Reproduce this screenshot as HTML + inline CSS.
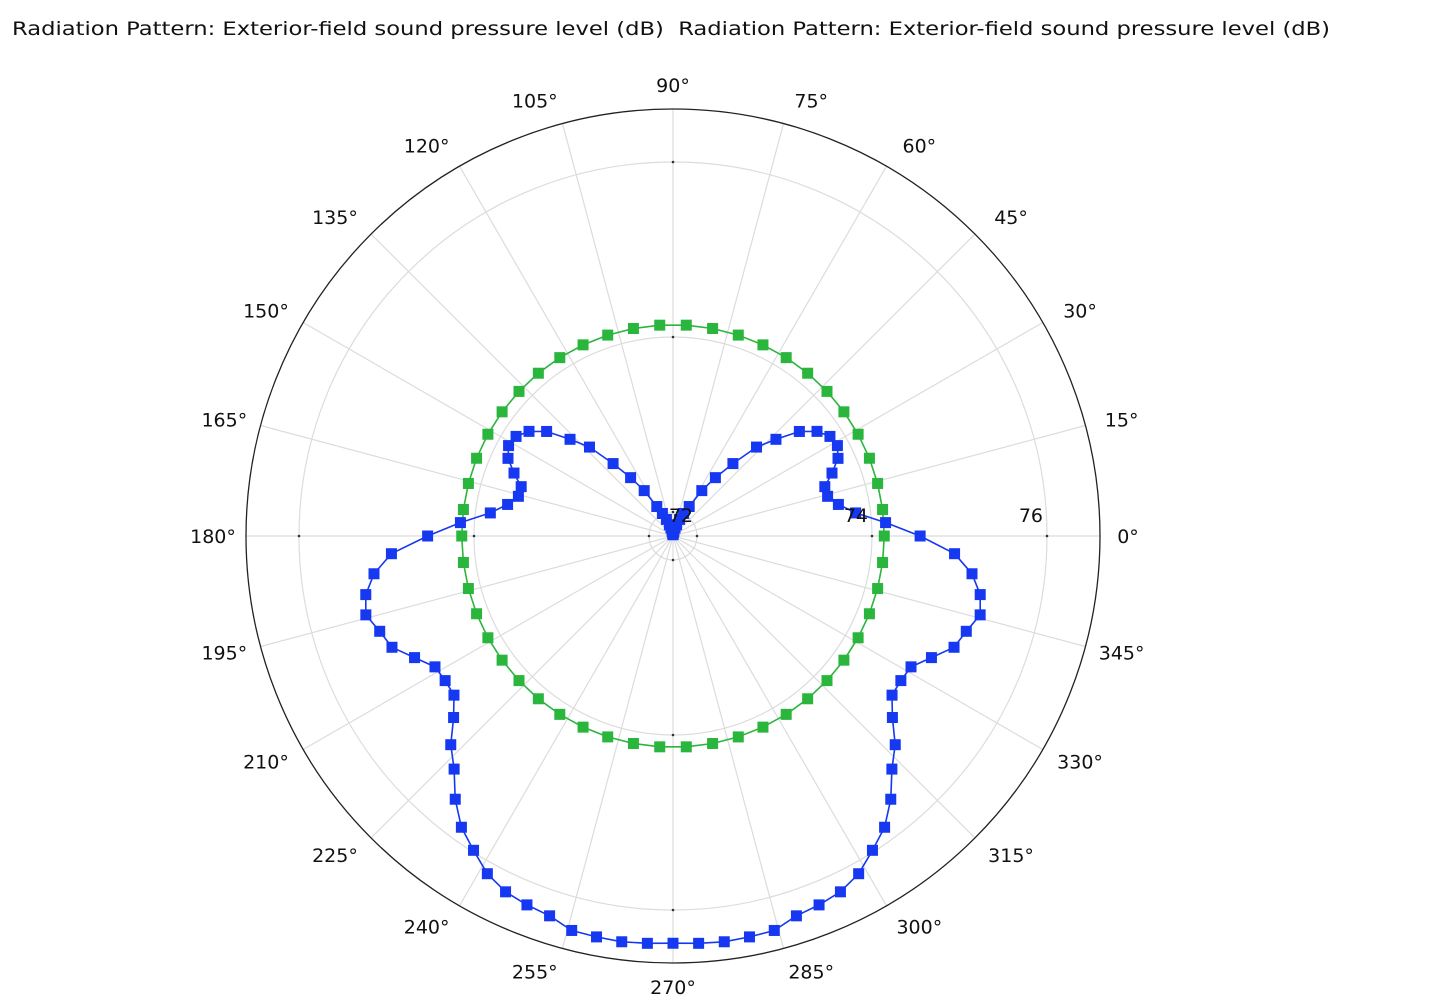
<!DOCTYPE html>
<html><head><meta charset="utf-8"><style>
html,body{margin:0;padding:0;background:#fff;}
svg{display:block;font-family:"DejaVu Sans","Liberation Sans",sans-serif;}
</style></head><body>
<svg id="chart" width="1442" height="1006" viewBox="0 0 1442 1006" xmlns="http://www.w3.org/2000/svg">
<text x="12" y="35" font-size="19" fill="#111" textLength="1318" lengthAdjust="spacingAndGlyphs" style="white-space:pre">Radiation Pattern: Exterior-field sound pressure level (dB)&#160; Radiation Pattern: Exterior-field sound pressure level (dB)</text>
<g id="grid"></g>
<g id="series"></g>
<g id="labels"></g>
</svg>
<script>
// ---- data ----
const blueAngles = [0,3.6,7.2,10.8,14.4,18,21.6,25.2,28.8,32.4,36,39.6,43.2,46.8,50.4,54,57.6,61.2,64.8,68.4,72,75.6,79.2,82.8,86.4,90,93.6,97.2,100.8,104.4,108,111.6,115.2,118.8,122.4,126,129.6,133.2,136.8,140.4,144,147.6,151.2,154.8,158.4,162,165.6,169.2,172.8,176.4,180,183.6,187.2,190.8,194.4,198,201.6,205.2,208.8,212.4,216,219.6,223.2,226.8,230.4,234,237.6,241.2,244.8,248.4,252,255.6,259.2,262.8,266.4,270,273.6,277.2,280.8,284.4,288,291.6,295.2,298.8,302.4,306,309.6,313.2,316.8,320.4,324,327.6,331.2,334.8,338.4,342,345.6,349.2,352.8,356.4];
const blueValues = [74.55,74.16,73.83,73.65,73.55,73.55,73.68,73.81,73.87,73.85,73.76,73.60,73.34,73.12,72.80,72.55,72.34,72.11,72.01,71.93,71.86,71.82,71.78,71.76,71.75,71.74,
71.75,71.76,71.78,71.82,71.86,71.93,72.01,72.11,72.34,72.55,72.80,73.12,73.34,73.60,73.76,73.85,73.87,73.81,73.68,73.55,73.55,73.65,73.83,74.16,
74.53,74.95,75.17,75.30,75.35,75.25,75.18,74.99,74.83,74.81,74.82,74.98,75.21,75.38,75.63,75.84,75.98,76.13,76.22,76.26,76.29,76.38,76.39,76.40,76.39,
76.38,76.39,76.40,76.39,76.38,76.29,76.26,76.22,76.13,75.98,75.84,75.63,75.38,75.21,74.98,74.82,74.81,74.83,74.99,75.18,75.25,75.35,75.30,75.17,74.95];
const greenAngles = [0,7.2,14.4,21.6,28.8,36,43.2,50.4,57.6,64.8,72,79.2,86.4,93.6,100.8,108,115.2,122.4,129.6,136.8,144,151.2,158.4,165.6,172.8,180,187.2,194.4,201.6,208.8,216,223.2,230.4,237.6,244.8,252,259.2,266.4,273.6,280.8,288,295.2,302.4,309.6,316.8,324,331.2,338.4,345.6,352.8];
const greenValues = [74.14,74.14,74.14,74.14,74.14,74.14,74.14,74.14,74.14,74.14,74.14,74.14,74.14,74.14,74.14,74.14,74.14,74.14,74.14,74.14,74.14,74.14,74.14,74.14,74.14,74.14,74.14,74.14,74.14,74.14,74.14,74.14,74.14,74.14,74.14,74.14,74.14,74.14,74.14,74.14,74.14,74.14,74.14,74.14,74.14,74.14,74.14,74.14,74.14,74.14];
const radialTicks = [72,74,76];
const radialTickLabels = ["72","74","76"];
const angleTicks = [0,15,30,45,60,75,90,105,120,135,150,165,180,195,210,225,240,255,270,285,300,315,330,345];

// ---- axes ----
const CX = 673, CY = 536, ROUT = 427;
const rScale = v => 24 + (v - 72) * 87.5;
const px = (a, r) => CX + r * Math.cos(a * Math.PI / 180);
const py = (a, r) => CY - r * Math.sin(a * Math.PI / 180);
const NS = "http://www.w3.org/2000/svg";
function mk(tag, attrs, parent) {
  const e = document.createElementNS(NS, tag);
  for (const k in attrs) e.setAttribute(k, attrs[k]);
  parent.appendChild(e);
  return e;
}
const grid = document.getElementById('grid');
const series = document.getElementById('series');
const labels = document.getElementById('labels');

angleTicks.forEach(a => {
  const l = mk('line', {x1: px(a, 0), y1: py(a, 0), x2: px(a, ROUT), y2: py(a, ROUT), stroke: '#dcdcdc', 'stroke-width': 1.2}, grid);
  
  
});
radialTicks.forEach(v => {
  const c = mk('circle', {cx: CX, cy: CY, r: rScale(v), fill: 'none', stroke: '#dcdcdc', 'stroke-width': 1.2}, grid);
  
  
  [0, 90, 180, 270].forEach(a => {
    const t = mk('circle', {cx: px(a, rScale(v)), cy: py(a, rScale(v)), r: 1.3, fill: '#333'}, grid);
    
    
  });
});
const outer = mk('circle', {cx: CX, cy: CY, r: ROUT, fill: 'none', stroke: '#222', 'stroke-width': 1.3}, grid);



function drawSeries(angles, vals, color, name) {
  const pts = angles.map((a, i) => [px(a, rScale(vals[i])), py(a, rScale(vals[i]))]);
  const path = mk('polygon', {points: pts.map(p => p[0].toFixed(1) + ',' + p[1].toFixed(1)).join(' '), fill: 'none', stroke: color, 'stroke-width': 1.6, 'stroke-linejoin': 'round'}, series);
  
  
  pts.forEach(p => {
    const m = mk('rect', {x: p[0] - 5.5, y: p[1] - 5.5, width: 11, height: 11, fill: color}, series);
    
    
  });
}
drawSeries(greenAngles, greenValues, '#2ab53c', 'green-series');
drawSeries(blueAngles, blueValues, '#1538f0', 'blue-series');

radialTicks.forEach((v, i) => {
  const t = mk('text', {x: px(0, rScale(v)) - 4, y: CY - 14, 'font-size': 19, fill: '#111', 'text-anchor': 'end'}, labels);
  t.textContent = radialTickLabels[i];
  
  
});
angleTicks.forEach(a => {
  const rad = a * Math.PI / 180;
  const c = Math.cos(rad), s = Math.sin(rad);
  const sg = Math.abs(c) < 1e-6 ? 0 : Math.sign(c);
  const extra = a === 0 ? 0 : sg * (5 + 16 * Math.abs(s));
  const x = CX + 455 * c + extra;
  const y = CY - 451 * s;
  const t = mk('text', {x: x, y: y + 7, 'font-size': 19, fill: '#111', 'text-anchor': 'middle'}, labels);
  t.textContent = a + '°';
  
  
});
</script>
</body></html>
